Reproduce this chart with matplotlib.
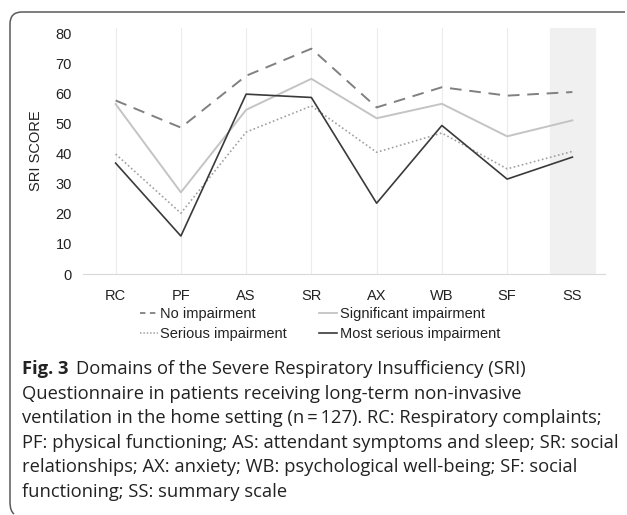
import matplotlib
matplotlib.use('Agg')
import matplotlib.pyplot as plt
from matplotlib.path import Path
from matplotlib.patches import PathPatch
from matplotlib.lines import Line2D

domains = ['RC', 'PF', 'AS', 'SR', 'AX', 'WB', 'SF', 'SS']
no_imp      = [57.6, 48.6, 65.8, 74.8, 55.3, 62.0, 59.2, 60.4]
significant = [56.4, 27.1, 54.5, 64.8, 51.7, 56.5, 45.7, 51.0]
serious     = [39.8, 20.2, 47.1, 55.8, 40.4, 46.8, 34.9, 40.7]
most_serious = [36.8, 12.6, 59.7, 58.6, 23.5, 49.3, 31.5, 38.8]
y_ticks = [0, 10, 20, 30, 40, 50, 60, 70, 80]

W, H = 627, 515
fig = plt.figure(figsize=(W / 100, H / 100), dpi=100)
plt.rcParams['font.family'] = 'Liberation Sans'

ax = fig.add_axes([83 / W, 1 - 274 / H, 522 / W, 246 / H])
x = list(range(len(domains)))

# shaded summary-scale column
ax.axvspan(len(domains) - 1 - 0.345, len(domains) - 1 + 0.345, color='#f0f0f0', zorder=0)
for xi in x[:-1]:
    ax.axvline(xi, color='#ececec', linewidth=0.8, zorder=1)

c_no, c_sig, c_ser, c_most = '#808080', '#c4c4c4', '#a0a0a0', '#3a3a3a'
ax.plot(x, no_imp, color=c_no, linestyle=(0, (6, 4)), linewidth=1.4, zorder=3)
ax.plot(x, serious, color=c_ser, linestyle=(0, (1, 1.5)), linewidth=1.2, zorder=3)
ax.plot(x, significant, color=c_sig, linewidth=1.4, zorder=3)
ax.plot(x, most_serious, color=c_most, linewidth=1.2, zorder=4)

ax.set_xlim(-0.5, len(domains) - 0.5)
ax.set_ylim(0, 81.66)
ax.set_xticks(x)
ax.set_xticklabels(domains)
ax.set_yticks(y_ticks)
for s in ['top', 'right', 'left']:
    ax.spines[s].set_visible(False)
ax.spines['bottom'].set_color('#d9d9d9')
ax.tick_params(length=0, labelsize=10.5, colors='#222222')
ax.tick_params(axis='x', pad=11)
ax.tick_params(axis='y', pad=8)
ax.set_ylabel('SRI SCORE', fontsize=10.5, color='#222222')
ax.yaxis.set_label_coords(-0.077, 0.5)

handles = [
    Line2D([], [], color=c_no, linestyle=(0, (3, 2.5)), linewidth=1.3),
    Line2D([], [], color=c_ser, linestyle=(0, (1, 1.2)), linewidth=1.1),
    Line2D([], [], color=c_sig, linewidth=1.3),
    Line2D([], [], color=c_most, linewidth=1.2),
]
labels = ['No impairment', 'Serious impairment', 'Significant impairment', 'Most serious impairment']
leg = fig.legend(handles, labels, loc='center', bbox_to_anchor=(320 / W, 1 - 324 / H), ncol=2,
                 frameon=False, fontsize=10.5, handlelength=1.25, handletextpad=0.15,
                 columnspacing=2.2, labelspacing=0.38, borderpad=0)
for t in leg.get_texts():
    t.set_color('#222222')

# rounded frame (left and top edges)
def fp(px, py):
    return (px / W, 1 - py / H)

verts = [fp(625, 12), fp(22, 12), fp(10, 12), fp(10, 24), fp(10, 502), fp(10, 511), fp(14, 514)]
codes = [Path.MOVETO, Path.LINETO, Path.CURVE3, Path.CURVE3, Path.LINETO, Path.CURVE3, Path.CURVE3]
fig.add_artist(PathPatch(Path(verts, codes), transform=fig.transFigure,
                         fill=False, edgecolor='#5a5a5a', linewidth=1.1))

# caption
cap_font = 'Open Sans'
cap_size = 13.2
lines = [
    'Domains of the Severe Respiratory Insufficiency (SRI)',
    'Questionnaire in patients receiving long-term non-invasive',
    'ventilation in the home setting (n\u2009=\u2009127). RC: Respiratory complaints;',
    'PF: physical functioning; AS: attendant symptoms and sleep; SR: social',
    'relationships; AX: anxiety; WB: psychological well-being; SF: social',
    'functioning; SS: summary scale',
]
x0 = 22
y0 = 369
dy = 24.6
bold = fig.text(x0 / W, 1 - y0 / H, 'Fig. 3', family=cap_font, fontsize=cap_size,
                fontweight='bold', va='center', color='#222222')
r = fig.canvas.get_renderer()
bw = bold.get_window_extent(r).width
fig.text((x0 + bw + 7) / W, 1 - y0 / H, lines[0], family=cap_font, fontsize=cap_size,
         va='center', color='#222222')
for i, ln in enumerate(lines[1:], start=1):
    fig.text(x0 / W, 1 - (y0 + i * dy) / H, ln, family=cap_font, fontsize=cap_size,
             va='center', color='#222222')

fig.savefig('out.png', dpi=100)
